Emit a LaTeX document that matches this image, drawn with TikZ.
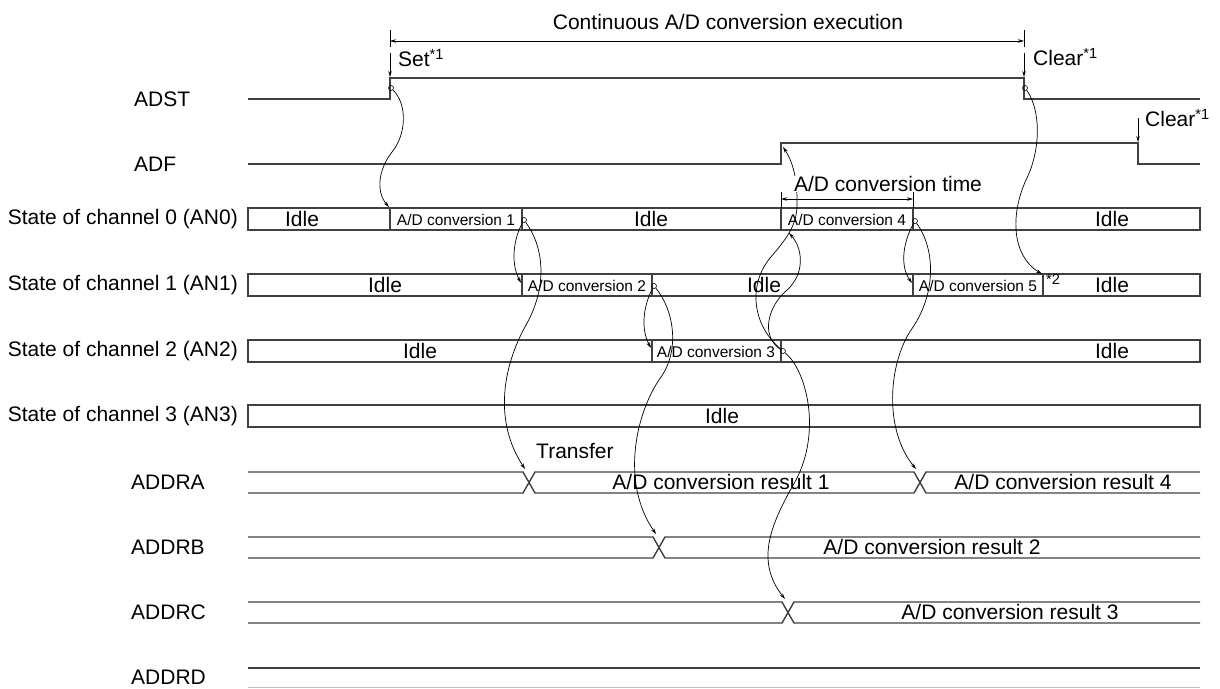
\documentclass[tikz,border=0pt]{standalone}
\usepackage{fontspec}
\setmainfont{Liberation Sans}
\usetikzlibrary{arrows.meta}

\begin{document}
\begin{tikzpicture}[x=1pt, y=-1pt,
  sig/.style={line width=1.4pt, draw=black!75},
  link/.style={line width=0.7pt, -{Stealth[length=6pt, width=3.5pt]}},
  dim/.style={line width=0.6pt, {Stealth[length=6pt, width=3.5pt]}-{Stealth[length=6pt, width=3.5pt]}},
  dot/.style={circle, draw, line width=0.6pt, inner sep=0pt, minimum size=5pt},
  lbl/.style={font=\fontsize{21}{25}\selectfont, inner sep=1pt},
  signame/.style={font=\fontsize{21}{25}\selectfont, inner sep=1pt, anchor=west},
  statelbl/.style={font=\fontsize{21}{25}\selectfont, inner sep=1pt, anchor=east},
  small/.style={font=\fontsize{15.5}{18}\selectfont, inner sep=1pt}]
\useasboundingbox (0,0) rectangle (1220,688);

\node[signame] (ADST) at (133, 99) {ADST};
\node[signame] (ADF) at (133, 164) {ADF};
\node[statelbl] (AN0) at (239, 219) {State of channel 0 (AN0)};
\node[statelbl] (AN1) at (239, 285) {State of channel 1 (AN1)};
\node[statelbl] (AN2) at (239, 351) {State of channel 2 (AN2)};
\node[statelbl] (AN3) at (239, 416) {State of channel 3 (AN3)};
\node[signame] (ADDRA) at (130, 482) {ADDRA};
\node[signame] (ADDRB) at (130, 547) {ADDRB};
\node[signame] (ADDRC) at (130, 612) {ADDRC};
\node[signame] (ADDRD) at (130, 677) {ADDRD};

\draw[sig] (248,99) -- (390,99) -- (390,78) -- (1024,78) -- (1024,99) -- (1200,99);
\draw[sig] (248,164) -- (781,164) -- (781,143) -- (1138,143) -- (1138,164) -- (1200,164);

\draw[sig] (248,208) rectangle (1200,230);
\draw[sig] (390,208) -- (390,230) (522,208) -- (522,230) (781,208) -- (781,230) (913,208) -- (913,230);
\draw[sig] (248,274) rectangle (1200,296);
\draw[sig] (522,274) -- (522,296) (652,274) -- (652,296) (913,274) -- (913,296) (1043,274) -- (1043,296);
\draw[sig] (248,340) rectangle (1200,362);
\draw[sig] (652,340) -- (652,362) (781,340) -- (781,362);
\draw[sig] (248,405) rectangle (1200,427);

\draw[sig] (248,472) -- (523,472) -- (535,493) -- (914,493) -- (926,472) -- (1200,472);
\draw[sig] (248,493) -- (523,493) -- (535,472) -- (914,472) -- (926,493) -- (1200,493);
\draw[sig] (248,537) -- (653,537) -- (665,558) -- (1200,558);
\draw[sig] (248,558) -- (653,558) -- (665,537) -- (1200,537);
\draw[sig] (248,602) -- (782,602) -- (794,623) -- (1200,623);
\draw[sig] (248,623) -- (782,623) -- (794,602) -- (1200,602);
\draw[sig] (248,668) -- (1200,668);
\draw[sig, draw=black!25] (248,687.5) -- (1200,687.5);

\node[dot] (rise) at (391, 88) {};
\node[dot] (fall) at (1025, 88) {};
\node[dot] (end1) at (524, 220) {};
\node[dot] (end2) at (654, 286) {};
\node[dot] (end3) at (783, 351) {};
\node[dot] (end4) at (915, 221) {};

\coordinate (start1) at (389, 207);
\coordinate (start2) at (521, 283);
\coordinate (start3) at (651, 348);
\coordinate (start4) at (789, 233);
\coordinate (start5) at (912, 283);
\coordinate (stop5) at (1042, 274);
\coordinate (adfup) at (783, 147);
\coordinate (xA1) at (525, 469);
\coordinate (xB) at (656, 534);
\coordinate (xC) at (785, 599);
\coordinate (xA4) at (916, 469);

\draw[link] (rise) .. controls (408,105) and (406,135) .. (392,152) .. controls (378,170) and (376,192) .. (start1);
\draw[link] (end1) .. controls (514,238) and (510,262) .. (start2);
\draw[link] (end1) .. controls (546,250) and (546,290) .. (526,325) .. controls (502,368) and (494,422) .. (xA1);
\draw[link] (end2) .. controls (644,304) and (640,328) .. (start3);
\draw[link] (end2) .. controls (674,310) and (680,350) .. (661,377) .. controls (636,412) and (620,482) .. (xB);
\draw[link] (end3) .. controls (760,336) and (768,306) .. (787,290) .. controls (804,275) and (804,250) .. (start4);
\draw[link] (end3) .. controls (752,325) and (748,285) .. (770,258) .. controls (790,235) and (798,222) .. (797,200) .. controls (797,185) and (795,165) .. (adfup);
\draw[link] (end3) .. controls (806,370) and (822,430) .. (796,480) .. controls (772,522) and (754,560) .. (xC);
\draw[link] (end4) .. controls (904,240) and (899,265) .. (start5);
\draw[link] (end4) .. controls (936,250) and (936,295) .. (911,330) .. controls (888,365) and (884,430) .. (xA4);
\draw[link] (fall) .. controls (1041,110) and (1041,150) .. (1026,180) .. controls (1010,215) and (1012,256) .. (stop5);

\coordinate (setup) at (390, 53);
\coordinate (setdn) at (390, 77);
\coordinate (clrup) at (1024, 53);
\coordinate (clrdn) at (1024, 77);
\coordinate (adfclrup) at (1138, 118);
\coordinate (adfclrdn) at (1138, 142);
\draw[link] (setup) -- (setdn);
\draw[link] (clrup) -- (clrdn);
\draw[link] (adfclrup) -- (adfclrdn);

\coordinate (runL) at (390, 41);
\coordinate (runR) at (1024, 41);
\draw[line width=0.6pt] (390,30) -- (390,47) (1024,30) -- (1024,47);
\draw[dim] (runL) -- (runR);
\node[lbl] (run) at (728, 22) {Continuous A/D conversion execution};
\node[lbl, anchor=west] (set) at (397, 58) {Set\textsuperscript{*1}};
\node[lbl, anchor=west] (clr) at (1032, 57) {Clear\textsuperscript{*1}};
\node[lbl, anchor=west] (adfclr) at (1144, 118) {Clear\textsuperscript{*1}};

\coordinate (convL) at (781, 199);
\coordinate (convR) at (913, 199);
\draw[line width=0.6pt] (781,192) -- (781,208) (913,192) -- (913,208);
\draw[dim] (convL) -- (convR);
\node[lbl, fill=white, inner sep=0.5pt] (convtime) at (888, 184) {A/D conversion time};

\node[lbl] (idle01) at (302, 219) {Idle};
\node[small] (conv1) at (456, 220) {A/D conversion 1};
\node[lbl] (idle02) at (651, 219) {Idle};
\node[small] (conv4) at (847, 220) {A/D conversion 4};
\node[lbl] (idle03) at (1112, 219) {Idle};

\node[lbl] (idle11) at (385, 285) {Idle};
\node[small] (conv2) at (587, 286) {A/D conversion 2};
\node[lbl] (idle12) at (764, 285) {Idle};
\node[small] (conv5) at (978, 286) {A/D conversion 5};
\node[lbl, anchor=west] (note2) at (1045, 283) {\textsuperscript{*2}};
\node[lbl] (idle13) at (1112, 285) {Idle};

\node[lbl] (idle21) at (420, 351) {Idle};
\node[small] (conv3) at (716, 352) {A/D conversion 3};
\node[lbl] (idle22) at (1112, 351) {Idle};

\node[lbl] (idle31) at (722, 416) {Idle};

\node[lbl, anchor=west] (transfer) at (535, 451) {Transfer};
\node[lbl] (res1) at (721, 482) {A/D conversion result 1};
\node[lbl] (res4) at (1063, 482) {A/D conversion result 4};
\node[lbl] (res2) at (932, 547) {A/D conversion result 2};
\node[lbl] (res3) at (1010, 612) {A/D conversion result 3};
\end{tikzpicture}
\end{document}
